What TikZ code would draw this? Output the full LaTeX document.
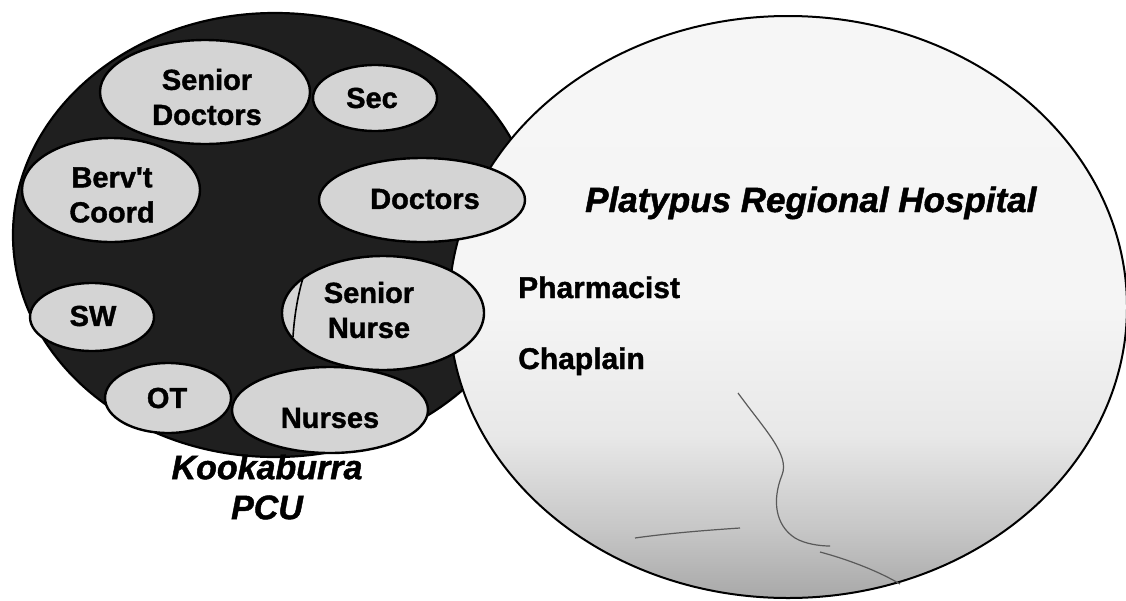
\documentclass[tikz,border=0pt]{standalone}
\usepackage{fontspec}
\setmainfont{Liberation Sans}[BoldFeatures={FakeBold=1.3}, BoldItalicFeatures={FakeBold=1.3}]
\usetikzlibrary{shapes.geometric}
\pgfdeclareverticalshading{hospshade}{100bp}{color(0bp)=(black!34); color(25bp)=(black!34); color(31bp)=(black!22); color(39bp)=(black!9); color(50bp)=(black!4); color(100bp)=(black!3)}
\begin{document}
\begin{tikzpicture}[x=1pt,y=-1pt,
  darkell/.style={ellipse, draw=black, line width=2.2pt, fill=black!88, inner sep=0pt},
  hosp/.style={ellipse, draw=black, line width=2pt, inner sep=0pt, shading=hospshade},
  member/.style={ellipse, draw=black, line width=2.4pt, fill=black!17, inner sep=0pt},
  lbl/.style={font=\fontsize{29}{35}\selectfont\bfseries, align=center, inner sep=0pt},
  site/.style={font=\fontsize{34}{40}\selectfont\bfseries\itshape, align=center, inner sep=0pt},
  role/.style={font=\fontsize{30}{36}\selectfont\bfseries, anchor=base west, inner sep=0pt},
  trace/.style={draw=black!65, line width=1.2pt},
]
\useasboundingbox (0,0) rectangle (1126,600);
% big regions
\node[darkell, minimum width=524pt, minimum height=444pt] (pcuarea) at (275,235) {};
\node[hosp, minimum width=678pt, minimum height=582pt] (hospital) at (788,307) {};
% faint traces in the hospital area
\draw[trace] (738,393) .. controls (765,430) and (790,455) .. (782,475)
  .. controls (772,500) and (775,525) .. (795,538)
  .. controls (805,544) and (820,546) .. (830,546);
\draw[trace] (820,552) .. controls (850,560) and (880,572) .. (900,584);
\draw[trace] (635,538) .. controls (670,533) and (710,530) .. (740,528);
% member ellipses
\node[member, minimum width=210pt, minimum height=104pt] (sdE) at (205,92) {};
\node[member, minimum width=124pt, minimum height=66pt] (secE) at (375,98) {};
\node[member, minimum width=178pt, minimum height=104pt] (bcE) at (111,190) {};
\node[member, minimum width=206pt, minimum height=84pt] (docE) at (422,200) {};
\node[member, minimum width=202pt, minimum height=114pt] (snE) at (383,313) {};
\node[member, minimum width=124pt, minimum height=68pt] (swE) at (92,317) {};
\node[member, minimum width=126pt, minimum height=70pt] (otE) at (168,398) {};
\node[member, minimum width=196pt, minimum height=86pt] (nuE) at (330,410) {};
% line inside senior nurse
\coordinate (snA) at (303,278);
\coordinate (snB) at (293,337);
\draw[line width=1.6pt] (snA) .. controls (297,298) and (294,320) .. (snB);
% member labels
\node[lbl] (sd) at (207,97) {Senior\\Doctors};
\node[lbl] (sec) at (372,98) {Sec};
\node[lbl] (bc) at (112,195) {Berv\textquotesingle t\\Coord};
\node[lbl] (doc) at (425,199) {Doctors};
\node[lbl] (sn) at (369,310) {Senior\\Nurse};
\node[lbl] (sw) at (93,316) {SW};
\node[lbl] (ot) at (167,398) {OT};
\node[lbl] (nu) at (330,418) {Nurses};
% site labels
\node[site] (pcu) at (267,487) {Kookaburra\\PCU};
\node[font=\fontsize{35}{40}\selectfont\bfseries\itshape, anchor=base west, inner sep=0pt] (prh) at (585,212) {Platypus Regional Hospital};
\node[role] (pharm) at (518,298) {Pharmacist};
\node[role] (chap) at (518,369) {Chaplain};
\end{tikzpicture}
\end{document}
